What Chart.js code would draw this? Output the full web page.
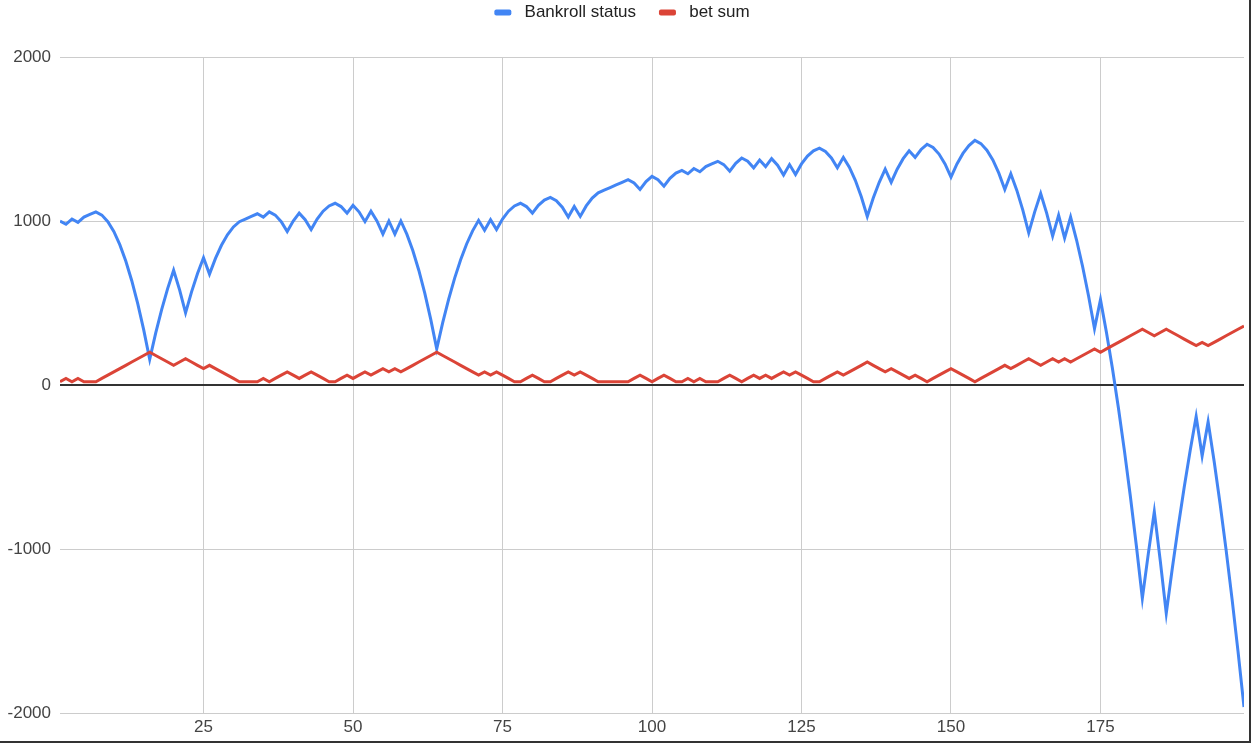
<!DOCTYPE html>
<html>
<head>
<meta charset="utf-8">
<title>Bankroll status and bet sum</title>
<script src="https://cdn.jsdelivr.net/npm/chart.js@4.4.1/dist/chart.umd.min.js"></script>
<style>
  html, body { margin: 0; padding: 0; background: #fff; }
  #wrap { width: 1249px; height: 741px; border-right: 2px solid #333; border-bottom: 2px solid #333; }
</style>
</head>
<body>
<div id="wrap"><canvas id="chart" width="1249" height="741"></canvas></div>
<script>
// round number (x axis)
const steps = [
  1, 2, 3, 4, 5, 6, 7, 8, 9, 10, 11, 12, 13, 14, 15, 16, 17, 18, 19, 20,
  21, 22, 23, 24, 25, 26, 27, 28, 29, 30, 31, 32, 33, 34, 35, 36, 37, 38, 39, 40,
  41, 42, 43, 44, 45, 46, 47, 48, 49, 50, 51, 52, 53, 54, 55, 56, 57, 58, 59, 60,
  61, 62, 63, 64, 65, 66, 67, 68, 69, 70, 71, 72, 73, 74, 75, 76, 77, 78, 79, 80,
  81, 82, 83, 84, 85, 86, 87, 88, 89, 90, 91, 92, 93, 94, 95, 96, 97, 98, 99, 100,
  101, 102, 103, 104, 105, 106, 107, 108, 109, 110, 111, 112, 113, 114, 115, 116, 117, 118, 119, 120,
  121, 122, 123, 124, 125, 126, 127, 128, 129, 130, 131, 132, 133, 134, 135, 136, 137, 138, 139, 140,
  141, 142, 143, 144, 145, 146, 147, 148, 149, 150, 151, 152, 153, 154, 155, 156, 157, 158, 159, 160,
  161, 162, 163, 164, 165, 166, 167, 168, 169, 170, 171, 172, 173, 174, 175, 176, 177, 178, 179, 180,
  181, 182, 183, 184, 185, 186, 187, 188, 189, 190, 191, 192, 193, 194, 195, 196, 197, 198, 199
];

const bankroll = [
  1000, 980, 1012, 992, 1024, 1040, 1056, 1036, 996, 936,
  856, 756, 636, 496, 336, 156, 316, 460, 588, 700,
  580, 440, 568, 680, 776, 676, 772, 852, 916, 964,
  996, 1012, 1028, 1044, 1024, 1056, 1036, 996, 936, 1000,
  1048, 1008, 948, 1012, 1060, 1092, 1108, 1088, 1048, 1096,
  1056, 996, 1060, 1000, 920, 1000, 920, 1000, 920, 820,
  700, 560, 400, 220, 380, 524, 652, 764, 860, 940,
  1004, 944, 1008, 948, 1012, 1060, 1092, 1108, 1088, 1048,
  1096, 1128, 1144, 1124, 1084, 1024, 1088, 1028, 1092, 1140,
  1172, 1188, 1204, 1220, 1236, 1252, 1232, 1192, 1240, 1272,
  1252, 1212, 1260, 1292, 1308, 1288, 1320, 1300, 1332, 1348,
  1364, 1344, 1304, 1352, 1384, 1364, 1324, 1372, 1332, 1380,
  1340, 1280, 1344, 1284, 1348, 1396, 1428, 1444, 1424, 1384,
  1324, 1388, 1328, 1248, 1148, 1028, 1140, 1236, 1316, 1236,
  1316, 1380, 1428, 1388, 1436, 1468, 1448, 1408, 1348, 1268,
  1348, 1412, 1460, 1492, 1472, 1432, 1372, 1292, 1192, 1288,
  1188, 1068, 928, 1056, 1168, 1048, 908, 1036, 896, 1024,
  884, 724, 544, 344, 520, 320, 100, -140, -400, -680,
  -980, -1300, -1028, -772, -1072, -1392, -1120, -864, -624, -400,
  -192, -432, -224, -464, -724, -1004, -1304, -1624, -1964
];

const betSum = [
  20, 40, 20, 40, 20, 20, 20, 40, 60, 80,
  100, 120, 140, 160, 180, 200, 180, 160, 140, 120,
  140, 160, 140, 120, 100, 120, 100, 80, 60, 40,
  20, 20, 20, 20, 40, 20, 40, 60, 80, 60,
  40, 60, 80, 60, 40, 20, 20, 40, 60, 40,
  60, 80, 60, 80, 100, 80, 100, 80, 100, 120,
  140, 160, 180, 200, 180, 160, 140, 120, 100, 80,
  60, 80, 60, 80, 60, 40, 20, 20, 40, 60,
  40, 20, 20, 40, 60, 80, 60, 80, 60, 40,
  20, 20, 20, 20, 20, 20, 40, 60, 40, 20,
  40, 60, 40, 20, 20, 40, 20, 40, 20, 20,
  20, 40, 60, 40, 20, 40, 60, 40, 60, 40,
  60, 80, 60, 80, 60, 40, 20, 20, 40, 60,
  80, 60, 80, 100, 120, 140, 120, 100, 80, 100,
  80, 60, 40, 60, 40, 20, 40, 60, 80, 100,
  80, 60, 40, 20, 40, 60, 80, 100, 120, 100,
  120, 140, 160, 140, 120, 140, 160, 140, 160, 140,
  160, 180, 200, 220, 200, 220, 240, 260, 280, 300,
  320, 340, 320, 300, 320, 340, 320, 300, 280, 260,
  240, 260, 240, 260, 280, 300, 320, 340, 360
];

const seriesNames = ["Bankroll status", "bet sum"];
const seriesColors = ["#4285f4", "#db4437"];

Chart.defaults.font.family = 'Arial, "Liberation Sans", sans-serif';
Chart.defaults.font.size = 17;

// legend takes the strip above the plot
const legendStrip = {
  id: "legendStrip",
  beforeLayout(chart) {
    const legend = chart.legend;
    if (!legend || legend._stripped) return;
    const fit = legend.fit;
    legend.fit = function () {
      fit.call(this);
      this.height = 57;
    };
    legend._stripped = true;
  }
};

new Chart(document.getElementById("chart"), {
  type: "line",
  data: {
    labels: steps,
    datasets: [
      {
        label: seriesNames[0],
        data: bankroll,
        borderColor: seriesColors[0],
        backgroundColor: seriesColors[0],
        borderWidth: 3,
        pointRadius: 0,
        tension: 0,
        order: 2
      },
      {
        label: seriesNames[1],
        data: betSum,
        borderColor: seriesColors[1],
        backgroundColor: seriesColors[1],
        borderWidth: 3,
        pointRadius: 0,
        tension: 0,
        order: 1
      }
    ]
  },
  options: {
    responsive: false,
    animation: false,
    layout: { padding: { top: 0, right: 5, bottom: 0, left: 0 } },
    plugins: {
      tooltip: { enabled: false },
      legend: {
        position: "top",
        labels: {
          color: "#222",
          boxWidth: 17,
          boxHeight: 6,
          padding: 4,
          useBorderRadius: true,
          borderRadius: 2,
          generateLabels(chart) {
            const items = Chart.defaults.plugins.legend.labels.generateLabels(chart);
            items.sort((a, b) => a.datasetIndex - b.datasetIndex);
            items.forEach((it) => {
              it.lineWidth = 0;
              it.borderRadius = 2;
              it.text = " " + it.text;
            });
            items[0].text += "    ";
            return items;
          }
        }
      }
    },
    scales: {
      x: {
        type: "linear",
        min: 1,
        max: 199,
        afterFit(scale) { scale.height = 28; },
        ticks: {
          stepSize: 25,
          includeBounds: false,
          color: "#444",
          padding: 4,
          maxRotation: 0,
          callback: (v) => String(v)
        },
        grid: { color: "#cccccc", lineWidth: 1, drawTicks: false },
        border: { display: false }
      },
      y: {
        min: -2000,
        max: 2000,
        afterFit(scale) { scale.width = 60; },
        ticks: {
          stepSize: 1000,
          color: "#444",
          padding: 9,
          callback: (v) => String(v)
        },
        grid: {
          color: (ctx) => (ctx.tick && ctx.tick.value === 0 ? "#333333" : "#cccccc"),
          lineWidth: (ctx) => (ctx.tick && ctx.tick.value === 0 ? 2 : 1),
          drawTicks: false
        },
        border: { display: false }
      }
    }
  },
  plugins: [legendStrip]
});
</script>
</body>
</html>
